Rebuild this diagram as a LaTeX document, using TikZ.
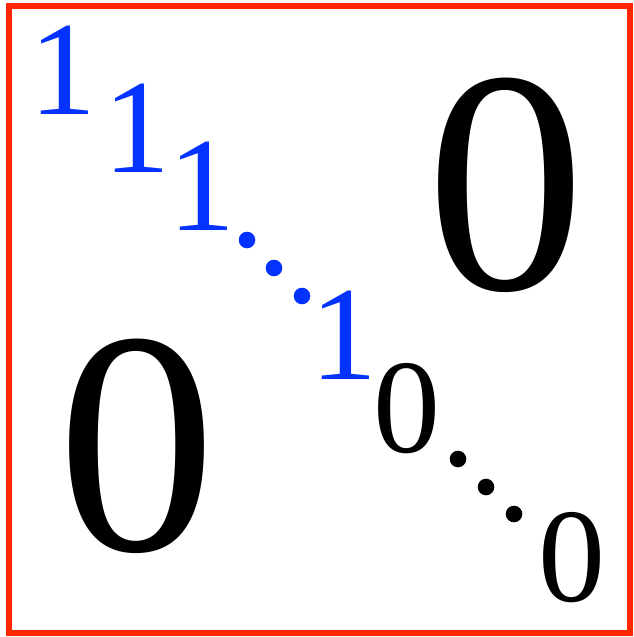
\documentclass[tikz,border=0pt]{standalone}
\usepackage{fontspec}
\setmainfont{Liberation Serif}
\usepackage{xcolor}
\usetikzlibrary{positioning}
\definecolor{diagblue}{RGB}{4,51,255}
\definecolor{framered}{RGB}{255,38,0}

\begin{document}
\begin{tikzpicture}[
  x=1pt, y=-1pt,
  frame/.style={draw=framered, line width=5.5pt},
  onedig/.style={anchor=base, inner sep=0pt, text=diagblue, font=\fontsize{134}{134}\selectfont},
  zerosm/.style={anchor=base, inner sep=0pt, text=black, font=\fontsize{134}{134}\selectfont},
  zerobig/.style={anchor=base, inner sep=0pt, text=black, font=\fontsize{318}{318}\selectfont}
]
\useasboundingbox (0,0) rectangle (633,637);
\draw[frame] (9,6) rectangle (630,633);
% identity block
\node[onedig] (o1) at (63,114) {1};
\node[onedig] (o2) at (137,172) {1};
\node[onedig] (o3) at (202,230) {1};
\node[onedig] (o4) at (344,379) {1};
\fill[diagblue] (247,240) circle (8.3) (274,268) circle (8.3) (302,296) circle (8.3);
% zero block
\node[zerosm] (z1) at (407,452) {0};
\node[zerosm] (z2) at (572,601) {0};
\fill[black] (458,459) circle (8.3) (486,487) circle (8.3) (514,514) circle (8.3);
% off-diagonal zeros
\node[zerobig] (zr) at (506,289) {0};
\node[zerobig] (zl) at (137,550) {0};
\end{tikzpicture}
\end{document}
